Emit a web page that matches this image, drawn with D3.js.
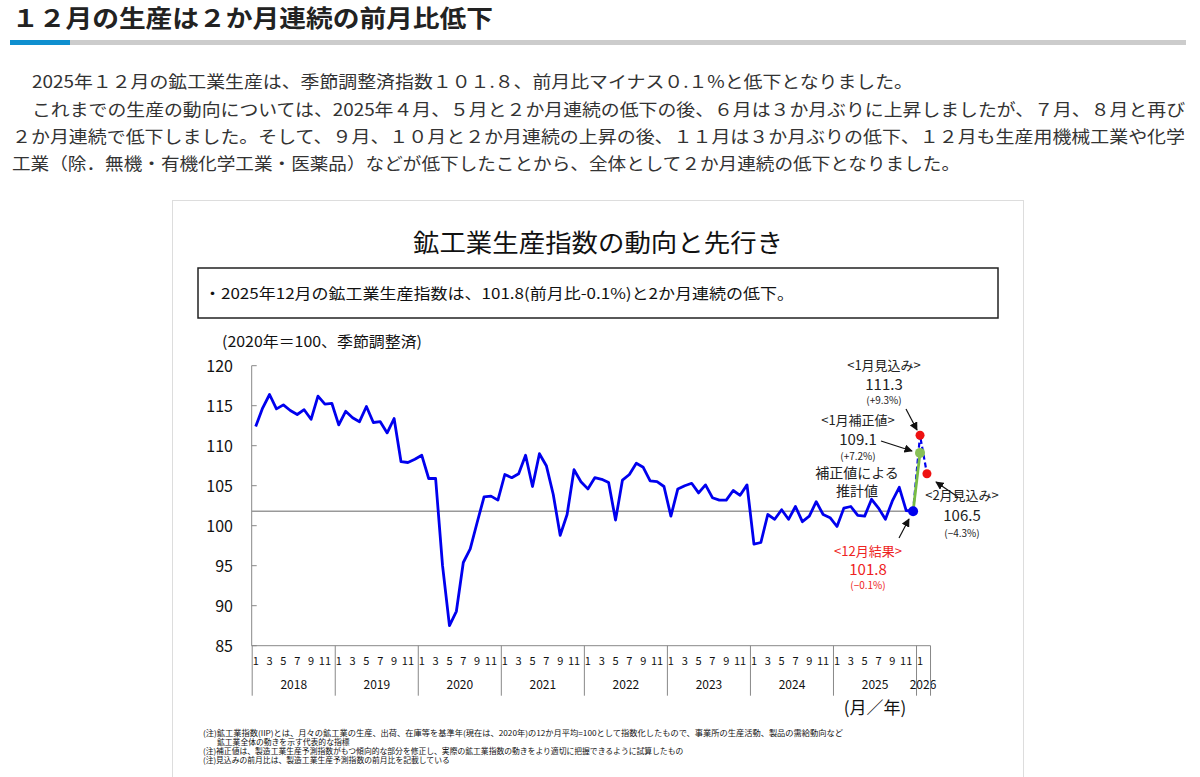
<!DOCTYPE html>
<html><head><meta charset="utf-8">
<script src="https://cdn.jsdelivr.net/npm/d3@7"></script>
<style>body{margin:0;background:#fff;font-family:"Noto Sans CJK JP","Noto Sans",sans-serif}</style>
</head><body><svg id="c" width="1200" height="777"></svg>
<script>
const years = ["2018","2019","2020","2021","2022","2023","2024","2025","2026"];
const monthTicks = ["1","3","5","7","9","11"];
const yTicks = [85,90,95,100,105,110,115,120];
const values = [
 112.4,114.7,116.4,114.6,115.1,114.4,113.9,114.5,113.3,116.2,115.2,115.3,
 112.6,114.3,113.5,113.0,114.9,112.9,113.0,111.6,113.4,108.0,107.9,108.3,
 108.8,105.9,105.9,95.0,87.5,89.3,95.4,97.1,100.4,103.6,103.7,103.2,
 106.4,106.0,106.5,108.8,104.9,109.0,107.5,103.9,98.8,101.4,107.0,105.5,
 104.6,106.0,105.8,105.4,100.7,105.7,106.4,107.8,107.3,105.6,105.5,104.9,
 101.2,104.6,105.0,105.3,104.1,105.1,103.5,103.2,103.2,104.4,103.8,105.1,
 97.7,97.9,101.4,100.8,102.0,100.8,102.4,100.5,101.2,103.0,101.4,101.0,
 99.9,102.2,102.4,101.3,101.2,103.3,102.2,100.8,103.1,104.8,101.9,101.8
];
const forecast = [101.8,111.3,106.5];   // Dec 2025, Jan 2026 forecast, Feb 2026 forecast
const corrected = [101.8,109.1];         // Dec 2025, Jan 2026 corrected
const refLevel = 101.8;

const svg = d3.select("#c");
const F = '"Noto Sans CJK JP","Noto Sans",sans-serif';
const txt = (x,y,s,size,opt={}) => {
  const t = svg.append("text").attr("x",x).attr("y",y).attr("font-size",size)
  .attr("fill",opt.fill||"#222").attr("font-family",F).attr("text-anchor",opt.anchor||"start")
  .attr("font-weight",opt.bold?"bold":"normal").text(s);
  if (opt.len) t.attr("textLength",opt.len).attr("lengthAdjust","spacingAndGlyphs");
  return t;
};

// page heading
txt(12,27,"１２月の生産は２か月連続の前月比低下",24,{bold:true,len:481});
svg.append("rect").attr("x",70).attr("y",40).attr("width",1116).attr("height",5).attr("fill","#ccc");
svg.append("rect").attr("x",10).attr("y",40).attr("width",60).attr("height",5).attr("fill","#0f8fcf");
const para = [
 [32,88,"2025年１２月の鉱工業生産は、季節調整済指数１０１.８、前月比マイナス０.１%と低下となりました。",881],
 [32,116,"これまでの生産の動向については、2025年４月、５月と２か月連続の低下の後、６月は３か月ぶりに上昇しましたが、７月、８月と再び",1153],
 [12,143,"２か月連続で低下しました。そして、９月、１０月と２か月連続の上昇の後、１１月は３か月ぶりの低下、１２月も生産用機械工業や化学",1173],
 [12,170,"工業（除．無機・有機化学工業・医薬品）などが低下したことから、全体として２か月連続の低下となりました。",948]
];
para.forEach(p=>txt(p[0],p[1],p[2],17,{fill:"#333",len:p[3]}));

// chart frame
svg.append("rect").attr("x",172.5).attr("y",200.5).attr("width",851).attr("height",590).attr("fill","#fff").attr("stroke","#ddd");
txt(413,252,"鉱工業生産指数の動向と先行き",25,{fill:"#111",len:370});
svg.append("rect").attr("x",198).attr("y",268).attr("width",800).attr("height",50).attr("fill","none").attr("stroke","#222").attr("stroke-width",1.5);
txt(204,299,"・2025年12月の鉱工業生産指数は、101.8(前月比-0.1%)と2か月連続の低下。",15,{fill:"#111",len:590});
txt(222,347,"(2020年＝100、季節調整済)",15,{fill:"#111",len:200});

// scales
const x = d3.scaleLinear().domain([0,97]).range([255.7,255.7+97*6.92]);
const y = d3.scaleLinear().domain([85,120]).range([645.7,365.7]);
const xLeft = 251.7, xRight = x(96)+10.5;

// y axis
svg.append("line").attr("x1",xLeft).attr("x2",xLeft).attr("y1",y(120)).attr("y2",y(85)).attr("stroke","#888");
yTicks.forEach(v=>{
  svg.append("line").attr("x1",xLeft).attr("x2",xLeft+5).attr("y1",y(v)).attr("y2",y(v)).attr("stroke","#888");
  txt(233,y(v)+6,String(v),16,{anchor:"end",fill:"#111"});
});
// x axis
svg.append("line").attr("x1",xLeft).attr("x2",xRight).attr("y1",y(85)).attr("y2",y(85)).attr("stroke","#888");
years.forEach((yr,i)=>{
  const x0 = x(i*12)-3.5;
  svg.append("line").attr("x1",x0).attr("x2",x0).attr("y1",y(85)).attr("y2",y(85)+50).attr("stroke","#888");
  const ticks = i<8 ? monthTicks : ["1"];
  ticks.forEach(m=>txt(x(i*12+(+m)-1),y(85)+19,m,11,{anchor:"middle",fill:"#111"}));
  const cx = i<8 ? x(i*12+5.5) : x(96)+3;
  txt(cx,y(85)+43,yr,12,{anchor:"middle",fill:"#111"});
});
svg.append("line").attr("x1",xRight).attr("x2",xRight).attr("y1",y(85)).attr("y2",y(85)+50).attr("stroke","#888");
txt(875,714,"(月／年)",17,{anchor:"middle",fill:"#111"});

// reference line
svg.append("line").attr("x1",xLeft).attr("x2",x(95)+4).attr("y1",y(refLevel)).attr("y2",y(refLevel)).attr("stroke","#999").attr("stroke-width",1.5);

// main line
svg.append("path").datum(values).attr("fill","none").attr("stroke","#0000ee").attr("stroke-width",2.8)
  .attr("stroke-linejoin","round").attr("d",d3.line().x((d,i)=>x(i)).y(d=>y(d)));
// forecast dashed
svg.append("path").datum(forecast).attr("fill","none").attr("stroke","#0000ee").attr("stroke-width",2.2).attr("stroke-dasharray","5,3")
  .attr("d",d3.line().x((d,i)=>x(95+i)).y(d=>y(d)));
svg.append("path").datum(corrected).attr("fill","none").attr("stroke","#77bb44").attr("stroke-width",2.8)
  .attr("d",d3.line().x((d,i)=>x(95+i)).y(d=>y(d)));
svg.append("circle").attr("cx",x(95)).attr("cy",y(values[95])).attr("r",5).attr("fill","#0000ee");
svg.append("circle").attr("cx",x(96)).attr("cy",y(corrected[1])).attr("r",5).attr("fill","#88c057");
svg.append("circle").attr("cx",x(96)).attr("cy",y(forecast[1])).attr("r",4.5).attr("fill","#ee1111");
svg.append("circle").attr("cx",x(97)).attr("cy",y(forecast[2])).attr("r",4.5).attr("fill","#ee1111");

// annotations
const defs = svg.append("defs");
defs.append("marker").attr("id","ah").attr("viewBox","0 0 10 10").attr("refX",9).attr("refY",5)
  .attr("markerWidth",7).attr("markerHeight",7).attr("orient","auto")
  .append("path").attr("d","M0,0 L10,5 L0,10 z").attr("fill","#111");
const arrow=(x1,y1,x2,y2)=>svg.append("line").attr("x1",x1).attr("y1",y1).attr("x2",x2).attr("y2",y2)
  .attr("stroke","#111").attr("stroke-width",1.2).attr("marker-end","url(#ah)");

txt(884,370,"<1月見込み>",13,{anchor:"middle"});
txt(884,390,String(forecast[1].toFixed(1)),15,{anchor:"middle"});
txt(884,404,"(+9.3%)",10,{anchor:"middle"});
arrow(906,409,917,430);
txt(858,425,"<1月補正値>",13,{anchor:"middle"});
txt(858,445,String(corrected[1].toFixed(1)),15,{anchor:"middle"});
txt(858,460,"(+7.2%)",10,{anchor:"middle"});
arrow(881,441,912,451);
txt(857,478,"補正値による",14,{anchor:"middle"});
txt(857,496,"推計値",14,{anchor:"middle"});
arrow(958,497,936,482);
txt(962,500,"<2月見込み>",13,{anchor:"middle"});
txt(962,521,String(forecast[2].toFixed(1)),15,{anchor:"middle"});
txt(962,537,"(−4.3%)",10,{anchor:"middle"});
arrow(899,538,909,519);
txt(868,556,"<12月結果>",13,{anchor:"middle",fill:"#ee2222"});
txt(868,575,String(values[95].toFixed(1)),15,{anchor:"middle",fill:"#ee2222"});
txt(868,589,"(−0.1%)",10,{anchor:"middle",fill:"#ee2222"});

// footnotes
const notes = [
 [203,736,"(注)鉱工業指数(IIP)とは、月々の鉱工業の生産、出荷、在庫等を基準年(現在は、2020年)の12か月平均=100として指数化したもので、事業所の生産活動、製品の需給動向など",640],
 [217,745,"鉱工業全体の動きを示す代表的な指標",null],
 [203,754,"(注)補正値は、製造工業生産予測指数がもつ傾向的な部分を修正し、実際の鉱工業指数の動きをより適切に把握できるように試算したもの",null],
 [203,763,"(注)見込みの前月比は、製造工業生産予測指数の前月比を記載している",null]
];
notes.forEach(n=>txt(n[0],n[1],n[2],7.8,{fill:"#111",len:n[3]}));
</script></body></html>
